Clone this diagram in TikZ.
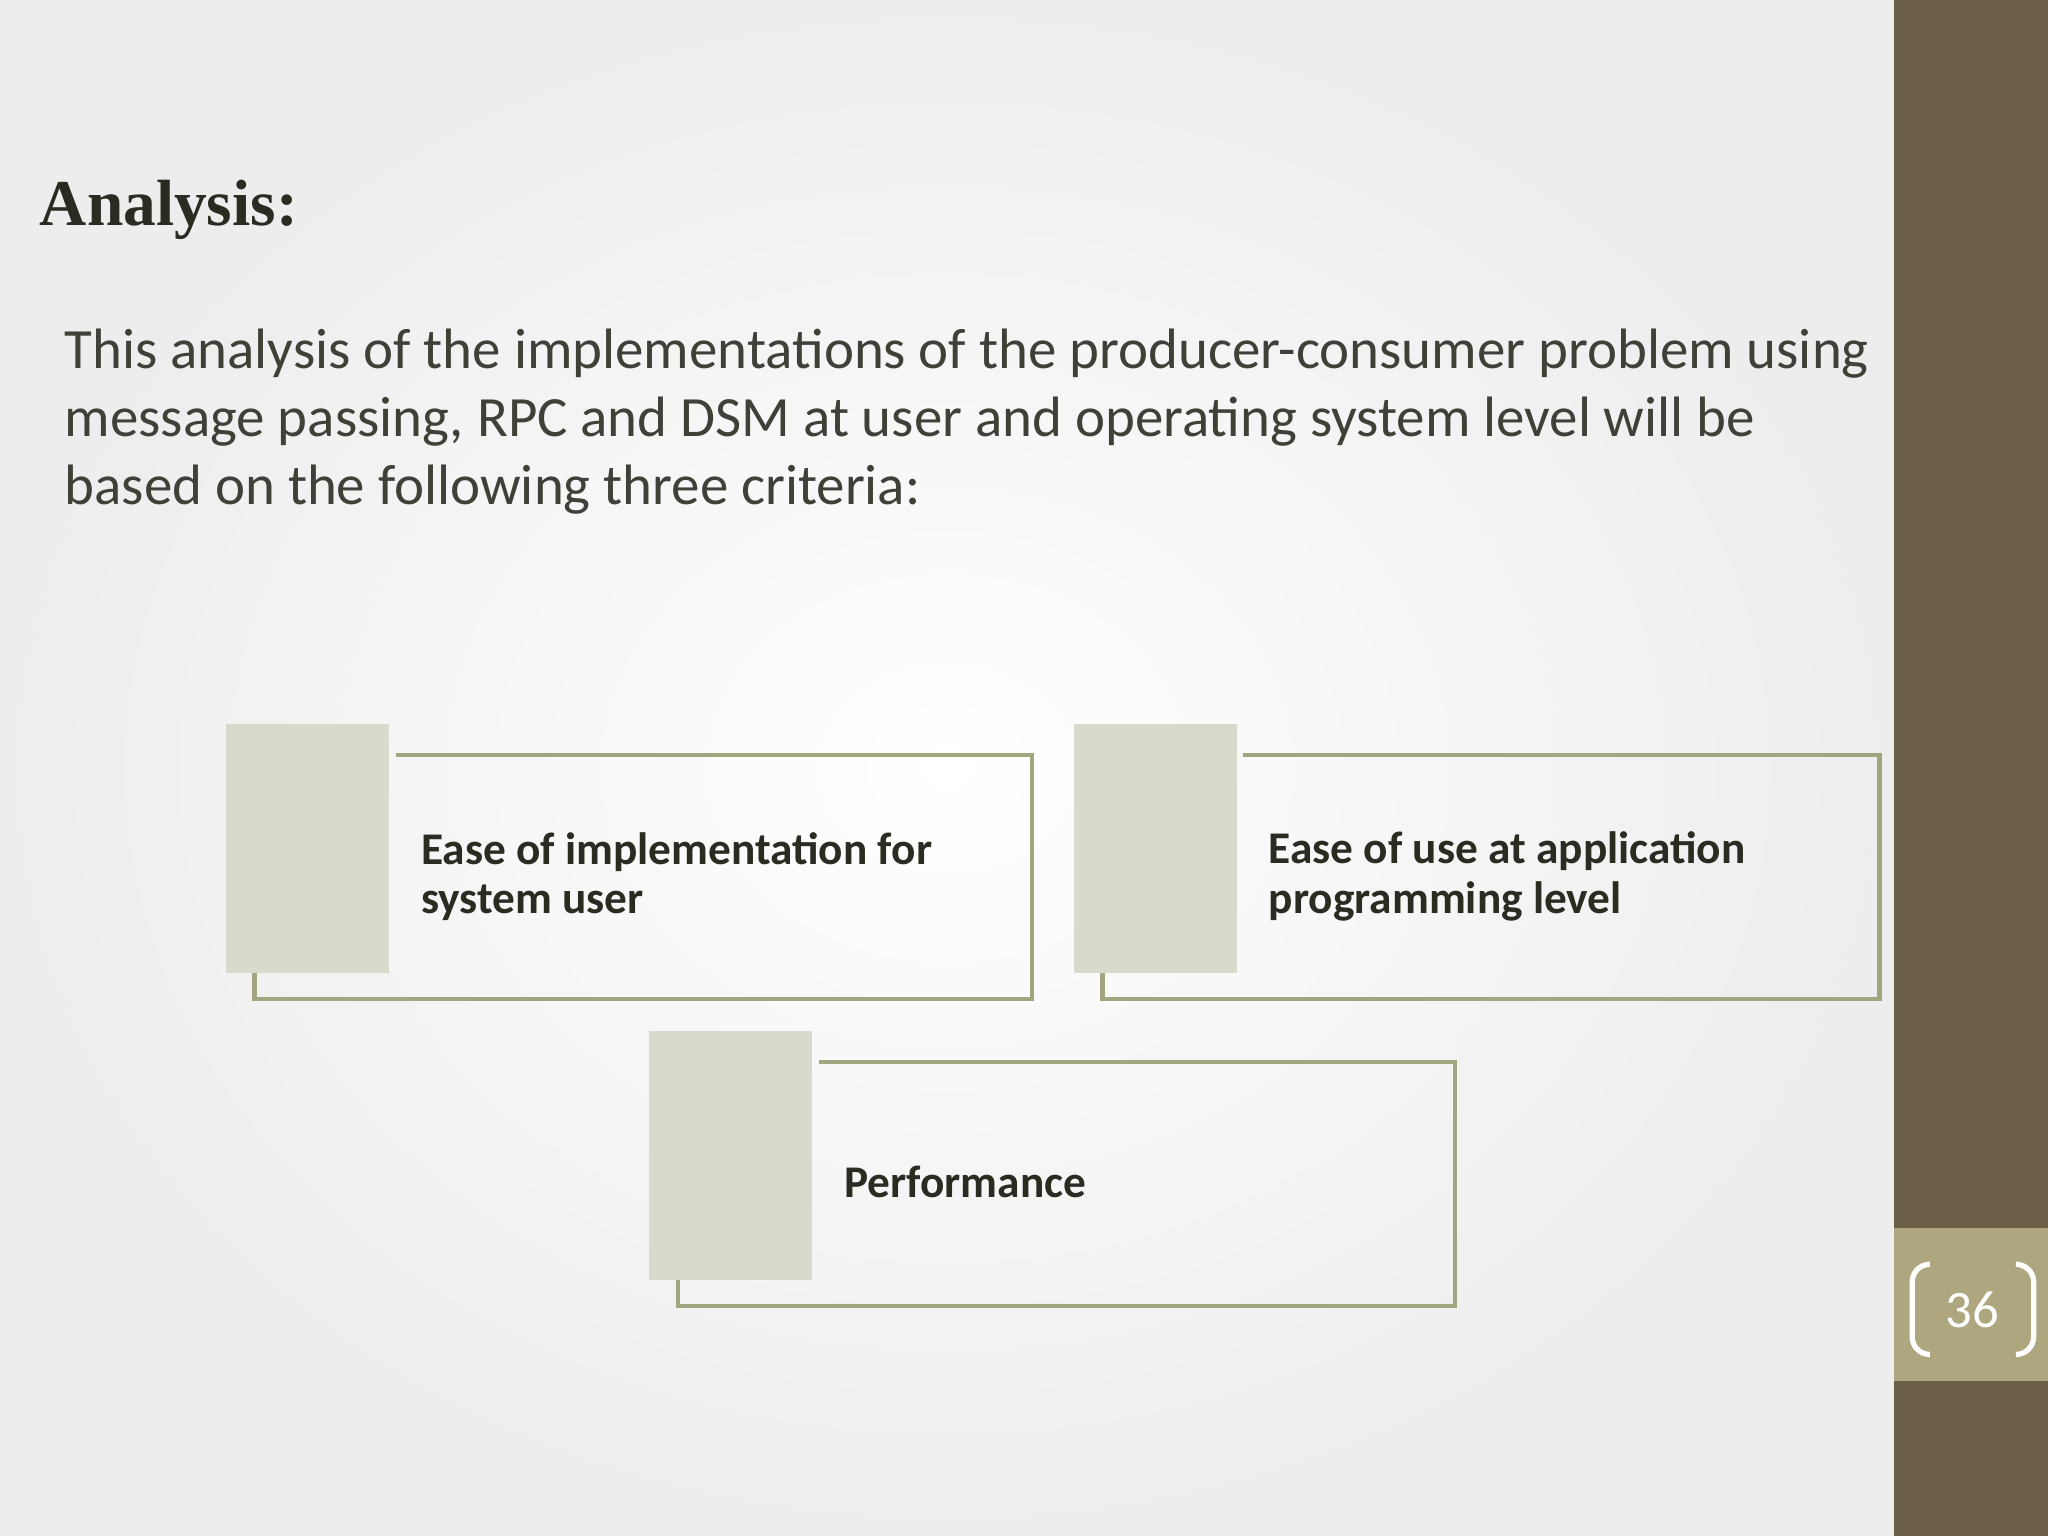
\documentclass[tikz,border=0pt]{standalone}
\usepackage{fontspec}
\setmainfont{Carlito}
\newfontfamily\titlefont{Liberation Serif}
\definecolor{barbrown}{HTML}{6B5F47}
\definecolor{pagegold}{HTML}{ADA67E}
\definecolor{framegreen}{HTML}{A3A57F}
\definecolor{tilegray}{HTML}{D9D9CC}
\definecolor{inkdark}{HTML}{2B2B22}
\tikzset{
  tile/.style={fill=tilegray,draw=none},
  frame/.style={draw=framegreen,line width=1.3pt},
  label/.style={anchor=west,align=left,font=\fontsize{12.9}{14.1}\selectfont\bfseries,text=inkdark}
}
\begin{document}
\begin{tikzpicture}[x=0.013061cm,y=-0.013061cm]
	\useasboundingbox (0,0) rectangle (1568,1176);
	%BACKGROUND
	\shade[inner color=white,outer color=gray!14] (0,0) rectangle (1450,1176);
	\fill[barbrown] (1450,0) rectangle (1568,1176);
	\fill[pagegold] (1450,940) rectangle (1568,1057);
	\draw[white,line width=1.5pt,rounded corners=5pt] (1476,968) -- (1464,968) -- (1464,1037) -- (1476,1037);
	\draw[white,line width=1.5pt,rounded corners=5pt] (1545,968) -- (1557,968) -- (1557,1037) -- (1545,1037);
	\node[text=white,font=\fontsize{15}{18}\selectfont] (page) at (1510,1003) {36};

	%TITLE AND TEXT
	\node[anchor=west,inner sep=0pt,text=inkdark,font=\titlefont\fontsize{18.6}{22}\selectfont\bfseries] (title) at (30,161) {Analysis:};
	\node[anchor=north west,align=left,inner sep=0pt,text=inkdark!90,font=\fontsize{16.2}{19.4}\selectfont] (intro) at (49,251)
		{This analysis of the implementations of the producer-consumer problem using\\message passing, RPC and DSM at user and operating system level will be\\based on the following three criteria:};

	%CRITERIA
	\foreach \name/\dx/\dy in {one/0/0,two/649/0,three/324/235}{
		\draw[frame] (303+\dx,578+\dy) -- (790+\dx,578+\dy) -- (790+\dx,765+\dy) -- (195+\dx,765+\dy) -- (195+\dx,745+\dy);
		\fill[tile] (173+\dx,554+\dy) rectangle (298+\dx,745+\dy);
	}
	\node[label] (crit1) at (313,671) {Ease of implementation for\\system user};
	\node[label] (crit2) at (962,671) {Ease of use at application\\programming level};
	\node[label] (crit3) at (637,905) {Performance};
\end{tikzpicture}
\end{document}
